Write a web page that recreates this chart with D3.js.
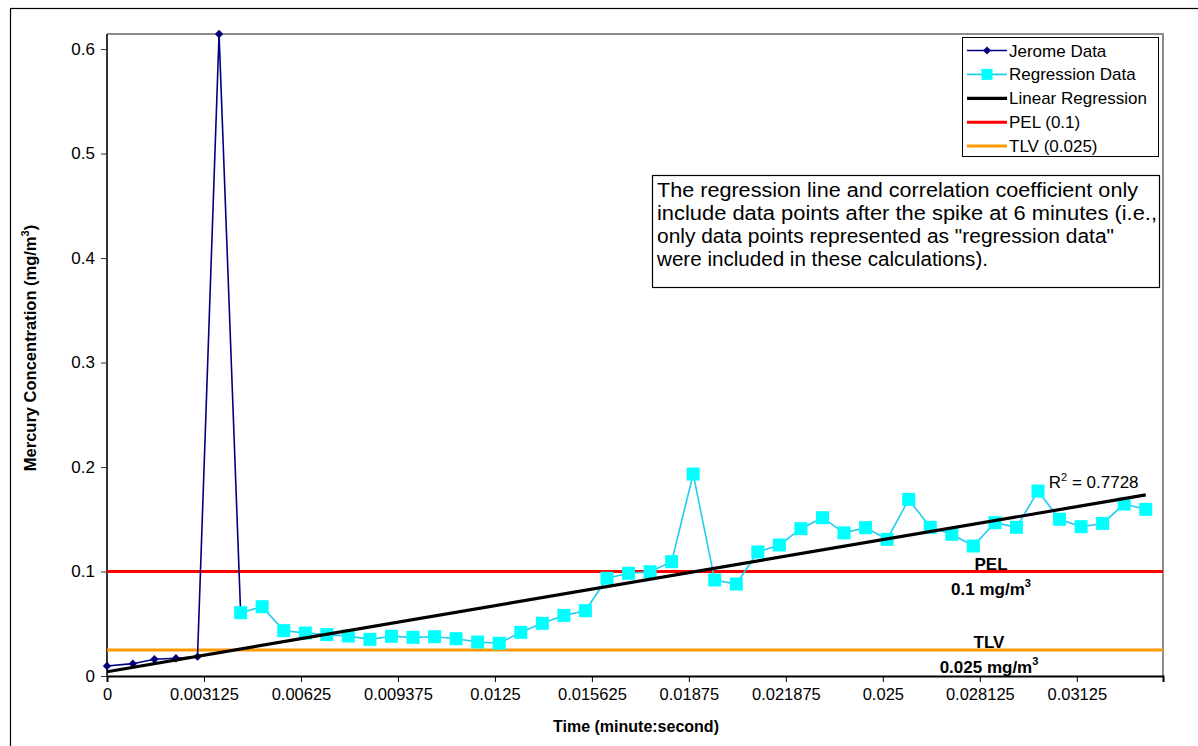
<!DOCTYPE html>
<html><head><meta charset="utf-8">
<script src="https://cdn.jsdelivr.net/npm/d3@7/dist/d3.min.js"></script>
<style>
html,body{margin:0;padding:0;background:#fff;}
text{font-family:"Liberation Sans",Arial,sans-serif;fill:#000;}
</style></head>
<body>
<svg id="chart" width="1198" height="746"></svg>
<script>
// ---- data (time in minutes, concentration in mg/m3) ----
const jeromeTimes = [0, 1.2, 2.2, 3.2, 4.2, 5.2, 6.2];
const jeromeValues = [0.0095, 0.0118, 0.016, 0.017, 0.0185, 0.6144, 0.0606];
const regressionTimes = [6.2, 7.2, 8.2, 9.2, 10.2, 11.2, 12.2, 13.2, 14.2, 15.2, 16.2, 17.2, 18.2, 19.2, 20.2, 21.2, 22.2, 23.2, 24.2, 25.2, 26.2, 27.2, 28.2, 29.2, 30.2, 31.2, 32.2, 33.2, 34.2, 35.2, 36.2, 37.2, 38.2, 39.2, 40.2, 41.2, 42.2, 43.2, 44.2, 45.2, 46.2, 47.2, 48.2];
const regressionValues = [0.0606, 0.0663, 0.0434, 0.0411, 0.0396, 0.0383, 0.0351, 0.038, 0.037, 0.0376, 0.0357, 0.0325, 0.0313, 0.0418, 0.0504, 0.058, 0.0625, 0.0935, 0.0983, 0.0998, 0.1094, 0.1933, 0.0919, 0.088, 0.1187, 0.1254, 0.141, 0.1515, 0.137, 0.142, 0.1308, 0.169, 0.1423, 0.1356, 0.1244, 0.1467, 0.1423, 0.177, 0.15, 0.1429, 0.146, 0.1646, 0.1595];
const trendTimes = [0, 48.2];
const trendValues = [0.0041, 0.1733];
const rSquared = "0.7728";
const pelValue = 0.1;
const tlvValue = 0.025;
const xTickValues = [0, 0.003125, 0.00625, 0.009375, 0.0125, 0.015625, 0.01875, 0.021875, 0.025, 0.028125, 0.03125];
const xTickLabels = ["0", "0.003125", "0.00625", "0.009375", "0.0125", "0.015625", "0.01875", "0.021875", "0.025", "0.028125", "0.03125"];
const yTickValues = [0, 0.1, 0.2, 0.3, 0.4, 0.5, 0.6];
const yTickLabels = ["0", "0.1", "0.2", "0.3", "0.4", "0.5", "0.6"];
const xMaxMinutes = 49;
const yMax = 0.6144;
const legendLabels = ["Jerome Data", "Regression Data", "Linear Regression", "PEL (0.1)", "TLV (0.025)"];
const noteLines = [
  "The regression line and correlation coefficient only",
  "include data points after the spike at 6 minutes (i.e.,",
  "only data points represented as \"regression data\"",
  "were included in these calculations)."
];

// ---- layout ----
const svg = d3.select("#chart");
const L = 107, R = 1163, T = 34, B = 676;
const toDay = m => m / 1440;
const x = d3.scaleLinear().domain([0, toDay(xMaxMinutes)]).range([L, R]);
const y = d3.scaleLinear().domain([0, yMax]).range([B, T]);

const C = {navy: "#000080", cyan: "#00FFFF", cyanLine: "#22CCEE", red: "#FF0000", orange: "#FF9900"};

// outer chart border
svg.append("rect").attr("x", 10.5).attr("y", 8.5).attr("width", 1300).attr("height", 900)
  .attr("fill", "#fff").attr("stroke", "#000").attr("stroke-width", 1.2);

// plot area border (top/right gray)
svg.append("path").attr("d", `M${L},${T}H${R}V${B}`).attr("fill", "none").attr("stroke", "#8c8c8c").attr("stroke-width", 2);

// axes
const xAxis = d3.axisBottom(x).tickValues(xTickValues).tickFormat((d, i) => xTickLabels[i]).tickSizeOuter(0).tickSize(6).tickPadding(6);
const gx = svg.append("g").attr("transform", `translate(0,${B})`).call(xAxis);
gx.select(".domain").attr("stroke", "#000").attr("stroke-width", 2);
gx.selectAll(".tick line").attr("stroke", "#000");
gx.selectAll(".tick text").attr("font-size", 16.5).attr("font-family", "Liberation Sans, Arial, sans-serif").attr("fill", "#000");

const yAxis = d3.axisLeft(y).tickValues(yTickValues).tickFormat((d, i) => yTickLabels[i]).tickSizeOuter(0).tickSize(6).tickPadding(6);
const gy = svg.append("g").attr("transform", `translate(${L},0)`).call(yAxis);
gy.select(".domain").attr("stroke", "#333").attr("stroke-width", 2).attr("d", `M0,${T}V${B}`);
gy.selectAll(".tick line").attr("stroke", "#333");
gy.selectAll(".tick text").attr("font-size", 17).attr("font-family", "Liberation Sans, Arial, sans-serif").attr("fill", "#000");

// reference lines
svg.append("line").attr("x1", x(0)).attr("x2", x(toDay(xMaxMinutes))).attr("y1", y(pelValue)).attr("y2", y(pelValue))
  .attr("stroke", C.red).attr("stroke-width", 3);
svg.append("line").attr("x1", x(0)).attr("x2", x(toDay(xMaxMinutes))).attr("y1", y(tlvValue)).attr("y2", y(tlvValue))
  .attr("stroke", C.orange).attr("stroke-width", 3);

// Jerome data
const jData = jeromeTimes.map((t, i) => [toDay(t), jeromeValues[i]]);
const line = d3.line().x(d => x(d[0])).y(d => y(d[1]));
svg.append("path").attr("d", line(jData)).attr("fill", "none").attr("stroke", C.navy).attr("stroke-width", 1.6);
svg.append("g").selectAll("path").data(jData).join("path")
  .attr("d", d => { const cx = x(d[0]), cy = y(d[1]), s = 4.2; return `M${cx},${cy - s}L${cx + s},${cy}L${cx},${cy + s}L${cx - s},${cy}Z`; })
  .attr("fill", C.navy);

// Regression data
const rData = regressionTimes.map((t, i) => [toDay(t), regressionValues[i]]);
svg.append("path").attr("d", line(rData)).attr("fill", "none").attr("stroke", C.cyanLine).attr("stroke-width", 1.6);
svg.append("g").selectAll("rect").data(rData).join("rect")
  .attr("x", d => x(d[0]) - 6.5).attr("y", d => y(d[1]) - 6.5).attr("width", 13).attr("height", 13)
  .attr("fill", C.cyan);

// Linear regression trend line
const tData = trendTimes.map((t, i) => [toDay(t), trendValues[i]]);
svg.append("path").attr("d", line(tData)).attr("fill", "none").attr("stroke", "#000").attr("stroke-width", 3.2);

// R² label
const rl = svg.append("text").attr("x", x(toDay(43.7))).attr("y", y(trendValues[1]) - 7).attr("font-size", 17);
rl.append("tspan").text("R");
rl.append("tspan").attr("font-size", 11).attr("dy", -7).text("2");
rl.append("tspan").attr("dy", 7).text(" = " + rSquared);

// PEL / TLV labels
function limitLabel(name, val, unitText, cx) {
  svg.append("text").attr("x", cx).attr("y", y(val) - 1.5).attr("text-anchor", "middle")
    .attr("font-size", 17).attr("font-weight", "bold").text(name);
  const t = svg.append("text").attr("x", cx).attr("y", y(val) + 23.5).attr("text-anchor", "middle")
    .attr("font-size", 17).attr("font-weight", "bold");
  t.append("tspan").text(unitText);
  t.append("tspan").attr("font-size", 11).attr("dy", -8).text("3");
}
limitLabel("PEL", pelValue, "0.1 mg/m", 991);
limitLabel("TLV", tlvValue, "0.025 mg/m", 989);

// axis titles
svg.append("text").attr("x", 636).attr("y", 732).attr("text-anchor", "middle")
  .attr("font-size", 16).attr("font-weight", "bold").text("Time (minute:second)");
const yt = svg.append("text").attr("transform", "translate(36,348) rotate(-90)").attr("text-anchor", "middle")
  .attr("font-size", 16.5).attr("font-weight", "bold");
yt.append("tspan").text("Mercury Concentration (mg/m");
yt.append("tspan").attr("font-size", 11).attr("dy", -7).text("3");
yt.append("tspan").attr("dy", 7).text(")");

// legend
const lg = svg.append("g");
lg.append("rect").attr("x", 962.5).attr("y", 37.5).attr("width", 196).attr("height", 119)
  .attr("fill", "#fff").attr("stroke", "#000").attr("stroke-width", 1);
const legendStyles = [
  {c: C.navy, w: 1.6, m: "diamond"},
  {c: C.cyanLine, w: 1.6, m: "square"},
  {c: "#000", w: 3.2},
  {c: C.red, w: 3},
  {c: C.orange, w: 3}
];
legendLabels.forEach((lab, i) => {
  const cy = 50.5 + i * 23.9, st = legendStyles[i];
  lg.append("line").attr("x1", 967).attr("x2", 1007).attr("y1", cy).attr("y2", cy).attr("stroke", st.c).attr("stroke-width", st.w);
  if (st.m === "diamond") {
    const s = 4; lg.append("path").attr("d", `M987,${cy - s}L${987 + s},${cy}L987,${cy + s}L${987 - s},${cy}Z`).attr("fill", C.navy);
  } else if (st.m === "square") {
    lg.append("rect").attr("x", 981.5).attr("y", cy - 5.5).attr("width", 11).attr("height", 11).attr("fill", C.cyan);
  }
  lg.append("text").attr("x", 1009).attr("y", cy + 6).attr("font-size", 17).text(lab);
});

// note box
svg.append("rect").attr("x", 652.5).attr("y", 175.5).attr("width", 507).attr("height", 112)
  .attr("fill", "#fff").attr("stroke", "#000").attr("stroke-width", 1.2);
const noteWidths = [481, 500, 457, 331];
noteLines.forEach((s, i) => {
  svg.append("text").attr("x", 657).attr("y", 197 + i * 23).attr("font-size", 19.5)
    .attr("textLength", noteWidths[i]).attr("lengthAdjust", "spacingAndGlyphs").text(s);
});
</script>
</body></html>
